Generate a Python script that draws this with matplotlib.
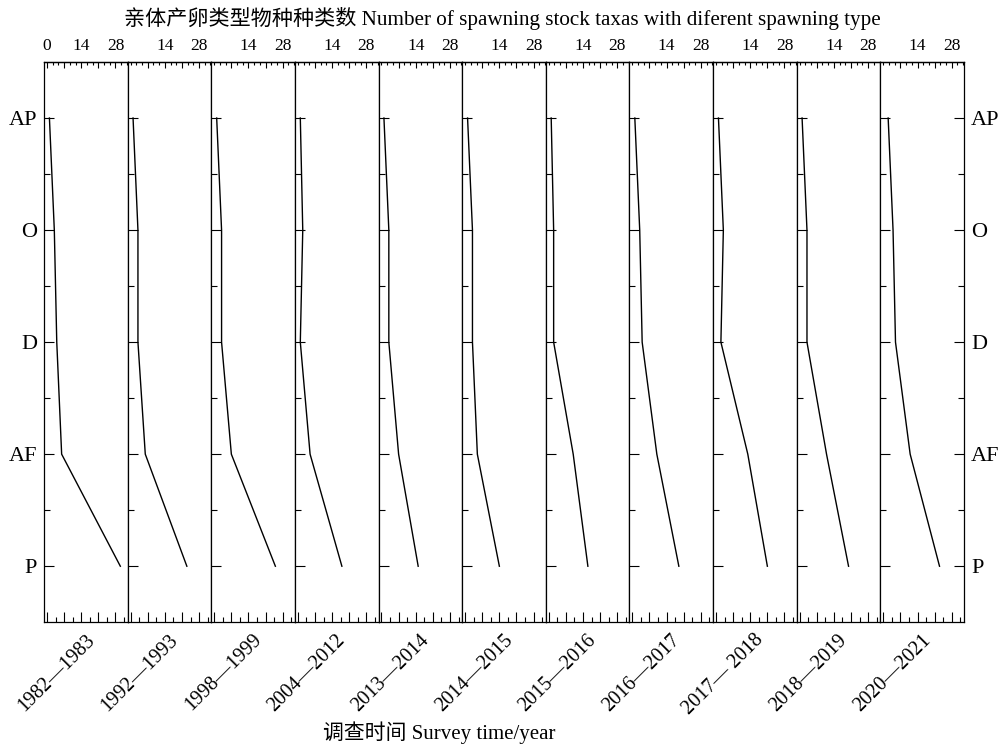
import matplotlib
matplotlib.use('Agg')
import matplotlib.pyplot as plt
from matplotlib.ticker import MultipleLocator, FixedLocator

plt.rcParams['font.family'] = ['Liberation Serif', 'Noto Sans CJK SC']

# spawning types (top to bottom) and survey periods
types = ['AP', 'O', 'D', 'AF', 'P']
periods = ['1982\u20141983', '1992\u20141993', '1998\u20141999', '2004\u20142012',
           '2013\u20142014', '2014\u20142015', '2015\u20142016', '2016\u20142017',
           '2017\u2014 2018', '2018\u20142019', '2020\u20142021']

# number of taxa per spawning type, one list per period (AP, O, D, AF, P)
counts = [
    [1, 3, 4, 6, 30],
    [1, 3, 3, 6, 23],
    [1, 3, 3, 7, 25],
    [1, 2, 1, 5, 18],
    [1, 3, 3, 7, 15],
    [1, 3, 3, 5, 14],
    [1, 2, 2, 10, 16],
    [1, 3, 4, 10, 19],
    [1, 3, 2, 13, 21],
    [1, 3, 3, 11, 20],
    [2, 4, 5, 11, 23],
]

fig, axes = plt.subplots(1, len(periods), figsize=(10.01, 7.47), dpi=100,
                         sharey=True, gridspec_kw={'wspace': 0})
fig.subplots_adjust(left=0.044, right=0.963, top=0.917, bottom=0.167)

ypos = list(range(len(types)))
for i, ax in enumerate(axes):
    ax.plot(counts[i], ypos, color='black', lw=1.0)
    ax.set_xlim(-1.2, 33.0)
    ax.set_ylim(4.5, -0.5)
    for sp in ax.spines.values():
        sp.set_linewidth(0.9)

    # bottom ticks
    ax.xaxis.set_major_locator(MultipleLocator(7))
    ax.xaxis.set_minor_locator(MultipleLocator(3.5))
    ax.tick_params(axis='x', which='major', direction='in', length=7, width=0.8,
                   bottom=True, top=False, labelbottom=False)
    ax.tick_params(axis='x', which='minor', direction='in', length=3.5, width=0.8,
                   bottom=True, top=False)

    # top ticks and labels
    top = ax.secondary_xaxis('top')
    top.spines['top'].set_linewidth(0.9)
    top.xaxis.set_minor_locator(MultipleLocator(7 / 3))
    top.set_xticks([0, 7, 14, 21, 28] if i == 0 else [7, 14, 21, 28])
    top.set_xticklabels(['0', '', '14', '', '28'] if i == 0 else ['', '14', '', '28'])
    top.tick_params(axis='x', which='major', direction='in', length=4, width=0.8,
                    labelsize=12.5, pad=6)
    top.tick_params(axis='x', which='minor', direction='in', length=2.5, width=0.8)

    # y ticks
    ax.set_yticks(ypos)
    ax.set_yticklabels(types)
    ax.yaxis.set_minor_locator(FixedLocator([0.5, 1.5, 2.5, 3.5]))
    last = i == len(periods) - 1
    ax.tick_params(axis='y', which='major', direction='in', length=7, width=0.8,
                   left=True, right=last, labelleft=(i == 0), labelright=last,
                   labelsize=16, pad=5)
    ax.tick_params(axis='y', which='minor', direction='in', length=4, width=0.8,
                   left=True, right=last)

    ax.annotate(periods[i], xy=(0.49, 0), xycoords='axes fraction',
                xytext=(0, -6), textcoords='offset points', rotation=45,
                ha='right', va='top', rotation_mode='anchor', fontsize=14.5)

fig.text(0.502, 1 - 18 / 747,
         '亲体产卵类型物种种类数 Number of spawning stock taxas with diferent spawning type',
         ha='center', va='center', fontsize=15.2)
fig.text(439 / 1001, 1 - 733 / 747, '调查时间 Survey time/year',
         ha='center', va='center', fontsize=15)

fig.savefig('out.png', dpi=100)
